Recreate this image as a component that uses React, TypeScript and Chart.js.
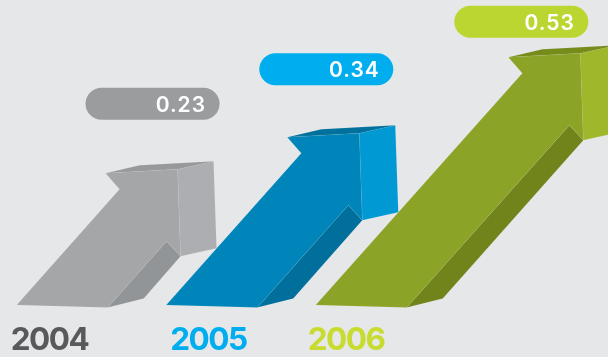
import { useEffect, useRef } from "react";
import { Chart, LinearScale, registerables } from "chart.js";

// Earnings per year
const years = ["2004", "2005", "2006"];
const values = [0.23, 0.34, 0.53];

const frontColors = ["#a5a6a8", "#0085ba", "#8ba326"];
const sideColors = ["#adaeb1", "#0099d3", "#9fb72b"];
const topColors = ["#98999b", "#00719d", "#758c1b"];
const underColors = ["#929597", "#006f9c", "#70841b"];
const pillColors = ["#9b9c9e", "#00aeef", "#bcd631"];
const yearColors = ["#58595b", "#00aeef", "#c7dc2f"];

// Callout and year label placement, relative to each arrow
const pillOffsets = [
  [42, -65.5],
  [34, -64],
  [8, -31.5],
];
const yearNudges = [-5, 5, -7];

const BACKGROUND = "#e6e7e9";
const FONT = "Inter";

// Vertical axis that opens out towards the larger values
class RiseScale extends LinearScale {
  static id = "rise";
  static defaults = {};
  curve(v: number) {
    return Math.exp(1.65 * v);
  }
  getPixelForValue(v: number) {
    const lo = this.curve(this.min);
    const hi = this.curve(this.max);
    return this.bottom - ((this.curve(v) - lo) / (hi - lo)) * (this.bottom - this.top);
  }
}

Chart.register(...registerables, RiseScale);

type Pt = [number, number];

function poly(ctx: CanvasRenderingContext2D, pts: Pt[], fill: string) {
  ctx.beginPath();
  pts.forEach(([x, y], i) => (i ? ctx.lineTo(x, y) : ctx.moveTo(x, y)));
  ctx.closePath();
  ctx.fillStyle = fill;
  ctx.fill();
  ctx.lineWidth = 0.5;
  ctx.strokeStyle = "rgba(255,255,255,0.12)";
  ctx.stroke();
}

// Draws each bar of the dataset as an extruded arrow rising from the bar's foot to its value
const arrowPlugin = {
  id: "arrows",
  beforeDraw(chart: Chart) {
    const { ctx, width, height } = chart;
    ctx.save();
    ctx.fillStyle = BACKGROUND;
    ctx.fillRect(0, 0, width, height);
    ctx.restore();
  },
  afterDatasetsDraw(chart: Chart) {
    const { ctx } = chart;
    const bars = chart.getDatasetMeta(0).data as any[];
    ctx.save();
    bars.forEach((bar, i) => {
      const footX = bar.x - bar.width / 2;
      const footY = bar.base;
      const rise = footY - bar.y;
      const tx = footX + 161 + (rise - 136) * 0.895;
      const ty = bar.y;
      const at = (dx: number, dy: number): Pt => [tx + dx, ty + dy];
      const farFoot: Pt = [footX + 91, footY + 2.5];
      const farFootBack: Pt = [farFoot[0] + 36, farFoot[1] - 9];

      poly(ctx, [farFoot, farFootBack, at(3, 87), at(-11, 72)], underColors[i]);
      poly(ctx, [at(0, 0), at(36, -8), at(39, 79), at(3, 87)], sideColors[i]);
      poly(ctx, [at(-72, 4), at(-38, -4), at(36, -8), at(0, 0)], topColors[i]);
      poly(
        ctx,
        [[footX, footY], farFoot, at(-11, 72), at(3, 87), at(0, 0), at(-72, 4), at(-58, 20)],
        frontColors[i],
      );

      // Value callout
      const [pdx, pdy] = pillOffsets[i];
      const right = tx + pdx;
      const mid = ty + pdy;
      ctx.beginPath();
      ctx.roundRect(right - 134, mid - 16, 134, 32, 16);
      ctx.fillStyle = pillColors[i];
      ctx.fill();
      ctx.fillStyle = "#ffffff";
      ctx.font = `600 21px ${FONT}`;
      ctx.textAlign = "right";
      ctx.textBaseline = "alphabetic";
      (ctx as any).letterSpacing = "1px";
      ctx.fillText(values[i].toFixed(2), right - 13.5, mid + 8);

      // Year under the arrow
      ctx.fillStyle = yearColors[i];
      ctx.font = `700 31.5px ${FONT}`;
      ctx.textAlign = "left";
      (ctx as any).letterSpacing = "-1.5px";
      ctx.fillText(years[i], footX + yearNudges[i] - 1, 350);
    });
    ctx.restore();
  },
};

export default function App() {
  const ref = useRef<HTMLCanvasElement>(null);

  useEffect(() => {
    document.body.style.margin = "0";
    document.body.style.background = BACKGROUND;
    const chart = new Chart(ref.current!, {
      type: "bar",
      data: {
        labels: years,
        datasets: [
          {
            label: "Earnings",
            data: values,
            base: -0.61,
            barThickness: 116,
            backgroundColor: "transparent",
            borderWidth: 0,
          },
        ],
      },
      options: {
        responsive: false,
        animation: false,
        layout: { padding: { left: 0, right: 159.5, top: 0, bottom: 52 } },
        plugins: { legend: { display: false }, tooltip: { enabled: false } },
        scales: {
          x: { display: false },
          y: { type: "rise", display: false, min: -0.61, max: 0.63 },
        },
      } as any,
      plugins: [arrowPlugin],
    });
    return () => chart.destroy();
  }, []);

  return <canvas ref={ref} width={608} height={357} style={{ display: "block" }} />;
}
